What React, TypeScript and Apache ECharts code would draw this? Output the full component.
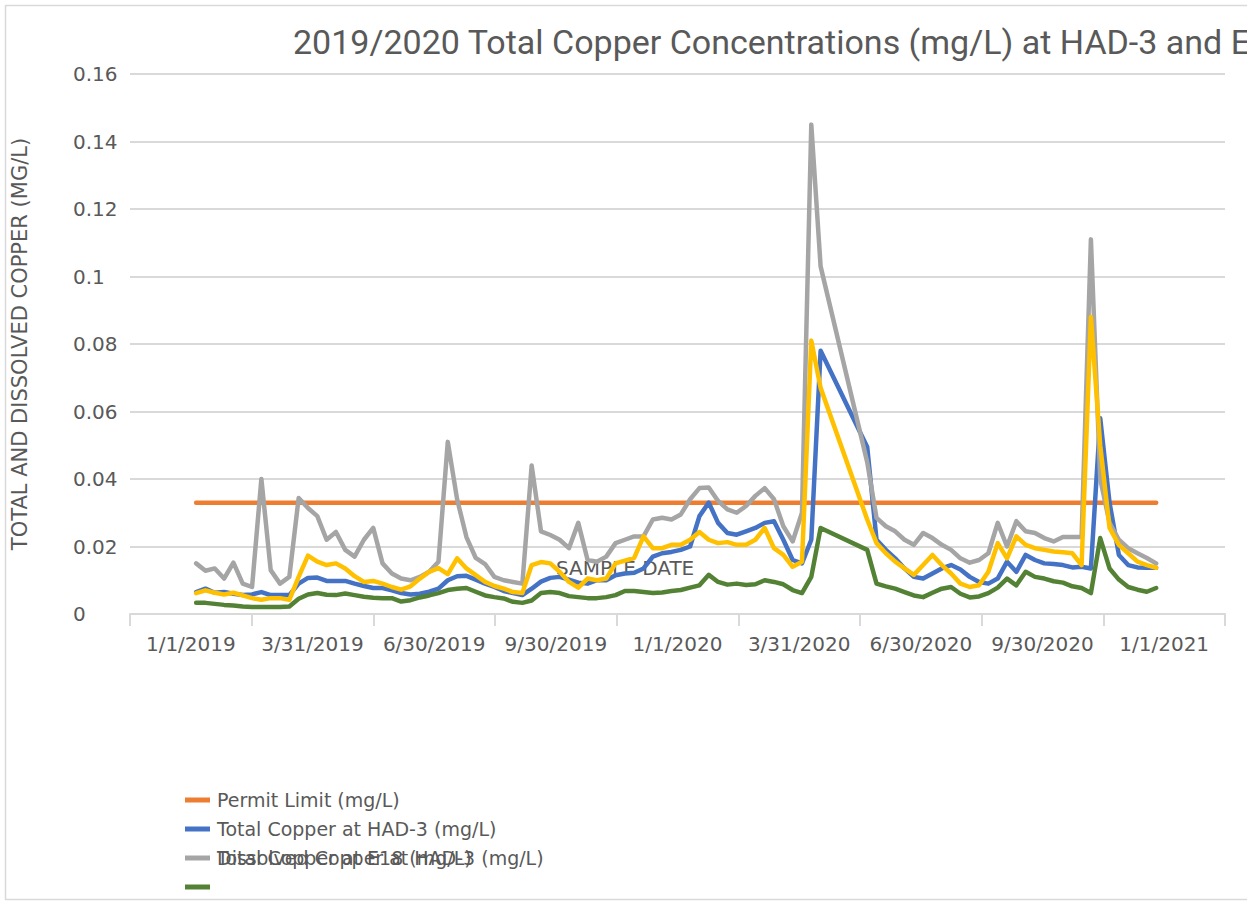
import React, { useEffect, useRef } from "react";
import * as echarts from "echarts";

const TITLE = "2019/2020 Total Copper Concentrations (mg/L) at HAD-3 and E18";
const Y_TITLE = "TOTAL AND DISSOLVED COPPER (MG/L)";
const X_TITLE = "SAMPLE DATE";
const X_LABELS = ["1/1/2019", "3/31/2019", "6/30/2019", "9/30/2019", "1/1/2020", "3/31/2020", "6/30/2020", "9/30/2020", "1/1/2021"];

const SERIES_NAMES = [
  "Permit Limit (mg/L)",
  "Total Copper at HAD-3 (mg/L)",
  "Total Copper at E18 (mg/L)",
  "Dissolved Copper at HAD-3 (mg/L)",
  "Dissolved Copper at E18 (mg/L)",
];

const DATES = [
  "2019-01-05", "2019-01-12", "2019-01-19", "2019-01-26",
  "2019-02-02", "2019-02-09", "2019-02-16", "2019-02-23",
  "2019-03-02", "2019-03-09", "2019-03-16", "2019-03-23", "2019-03-30",
  "2019-04-06", "2019-04-13", "2019-04-20", "2019-04-27",
  "2019-05-04", "2019-05-11", "2019-05-18", "2019-05-25",
  "2019-06-01", "2019-06-08", "2019-06-15", "2019-06-22", "2019-06-29",
  "2019-07-06", "2019-07-13", "2019-07-20", "2019-07-27",
  "2019-08-03", "2019-08-10", "2019-08-17", "2019-08-24", "2019-08-31",
  "2019-09-07", "2019-09-14", "2019-09-21", "2019-09-28",
  "2019-10-05", "2019-10-12", "2019-10-19", "2019-10-26",
  "2019-11-02", "2019-11-09", "2019-11-16", "2019-11-23", "2019-11-30",
  "2019-12-07", "2019-12-14", "2019-12-21", "2019-12-28",
  "2020-01-04", "2020-01-11", "2020-01-18", "2020-01-25",
  "2020-02-01", "2020-02-08", "2020-02-15", "2020-02-22", "2020-02-29",
  "2020-03-07", "2020-03-14", "2020-03-21", "2020-03-28",
  "2020-04-04", "2020-04-11", "2020-04-18",
  "2020-05-23", "2020-05-30",
  "2020-06-06", "2020-06-13", "2020-06-20", "2020-06-27",
  "2020-07-04", "2020-07-11", "2020-07-18", "2020-07-25",
  "2020-08-01", "2020-08-08", "2020-08-15", "2020-08-22", "2020-08-29",
  "2020-09-05", "2020-09-12", "2020-09-19", "2020-09-26",
  "2020-10-03", "2020-10-10", "2020-10-17", "2020-10-24", "2020-10-31",
  "2020-11-07", "2020-11-14", "2020-11-21", "2020-11-28",
  "2020-12-05", "2020-12-12", "2020-12-19", "2020-12-26",
];

const PERMIT_LIMIT = 0.033;

const TOTAL_HAD3 = [
  0.0065, 0.0075, 0.0063, 0.0065, 0.006, 0.0056, 0.0058, 0.0065, 0.0056, 0.0056,
  0.0056, 0.009, 0.0107, 0.0108, 0.0098, 0.0098, 0.0098, 0.009, 0.0083, 0.0077,
  0.0077, 0.007, 0.0062, 0.0058, 0.006, 0.0066, 0.0075, 0.01, 0.0112, 0.0113,
  0.0102, 0.009, 0.008, 0.0068, 0.0062, 0.0056, 0.0075, 0.0096, 0.0107, 0.011,
  0.0102, 0.0093, 0.009, 0.01, 0.01, 0.0115, 0.012, 0.0122, 0.0135, 0.017,
  0.018, 0.0184, 0.019, 0.02, 0.029, 0.033, 0.027, 0.024, 0.0235, 0.0245,
  0.0255, 0.027, 0.0275, 0.022, 0.016, 0.015, 0.022, 0.078,
  0.0495, 0.022, 0.019, 0.0165, 0.0135, 0.011, 0.0105, 0.012, 0.0135, 0.0145,
  0.0132, 0.011, 0.0095, 0.009, 0.0105, 0.0155, 0.0125, 0.0175, 0.016, 0.015,
  0.0148, 0.0145, 0.0138, 0.014, 0.0135, 0.058, 0.033, 0.0175, 0.0145, 0.0138,
  0.0137, 0.0137,
];

const TOTAL_E18 = [
  0.015, 0.0128, 0.0135, 0.0105, 0.0152, 0.009, 0.008, 0.04, 0.013, 0.009,
  0.011, 0.0344, 0.0314, 0.029, 0.022, 0.0243, 0.019, 0.017, 0.022, 0.0255,
  0.015, 0.012, 0.0105, 0.01, 0.011, 0.0125, 0.0155, 0.051, 0.034, 0.0228,
  0.0166, 0.0148, 0.011, 0.01, 0.0095, 0.009, 0.044, 0.0245, 0.0234, 0.022,
  0.0195, 0.027, 0.016, 0.0155, 0.017, 0.021, 0.022, 0.023, 0.023, 0.028,
  0.0285, 0.028, 0.0295, 0.034, 0.0373, 0.0375, 0.0335, 0.031, 0.03, 0.032,
  0.035, 0.0373, 0.034, 0.026, 0.0215, 0.03, 0.145, 0.103,
  0.045, 0.0285, 0.026, 0.0245, 0.022, 0.0205, 0.024, 0.0225, 0.0205, 0.019,
  0.0165, 0.0152, 0.016, 0.018, 0.027, 0.02, 0.0275, 0.0245, 0.024, 0.0225,
  0.0215, 0.0228, 0.0228, 0.0228, 0.111, 0.04, 0.027, 0.022, 0.0195, 0.018,
  0.0166, 0.015,
];

const DISSOLVED_HAD3 = [
  0.0062, 0.007, 0.0063, 0.0058, 0.0063, 0.0055, 0.0047, 0.0042, 0.0047, 0.0047,
  0.0042, 0.011, 0.0173, 0.0155, 0.0145, 0.015, 0.0135, 0.0112, 0.0095, 0.0098,
  0.009, 0.008, 0.0072, 0.0082, 0.0105, 0.0125, 0.0136, 0.0118, 0.0165, 0.0135,
  0.0115, 0.0095, 0.0083, 0.0075, 0.0065, 0.0062, 0.0145, 0.0154, 0.015, 0.0125,
  0.0095, 0.0078, 0.0105, 0.01, 0.0105, 0.015, 0.0158, 0.0166, 0.023, 0.0195,
  0.0195, 0.0205, 0.0205, 0.022, 0.0243, 0.022, 0.021, 0.0213, 0.0205, 0.0205,
  0.022, 0.0255, 0.0195, 0.0175, 0.014, 0.0155, 0.081, 0.067,
  0.028, 0.021, 0.018, 0.0155, 0.0135, 0.0116, 0.0145, 0.0175, 0.0145, 0.012,
  0.009, 0.008, 0.0085, 0.0125, 0.021, 0.0165, 0.023, 0.0205, 0.0195, 0.019,
  0.0185, 0.0183, 0.018, 0.0145, 0.088, 0.05, 0.0255, 0.0205, 0.018, 0.0155,
  0.0145, 0.0137,
];

const DISSOLVED_E18 = [
  0.0033, 0.0033, 0.003, 0.0027, 0.0025, 0.0022, 0.0021, 0.0021, 0.0021, 0.0021,
  0.0022, 0.0045, 0.0058, 0.0062, 0.0057, 0.0056, 0.0061, 0.0056, 0.0051, 0.0048,
  0.0047, 0.0047, 0.0037, 0.0041, 0.0049, 0.0055, 0.0062, 0.0071, 0.0075, 0.0077,
  0.0066, 0.0055, 0.005, 0.0046, 0.0036, 0.0033, 0.004, 0.0062, 0.0065, 0.0062,
  0.0053, 0.005, 0.0047, 0.0047, 0.005, 0.0056, 0.0068, 0.0068, 0.0065, 0.0062,
  0.0064, 0.0068, 0.0071, 0.0078, 0.0085, 0.0116, 0.0095, 0.0087, 0.009, 0.0086,
  0.0088, 0.01, 0.0095, 0.0088, 0.0071, 0.0062, 0.011, 0.0255,
  0.019, 0.009, 0.0082, 0.0075, 0.0065, 0.0055, 0.005, 0.0063, 0.0075, 0.008,
  0.006, 0.0049, 0.0052, 0.0062, 0.0078, 0.0105, 0.0085, 0.0125, 0.011, 0.0105,
  0.0097, 0.0093, 0.0082, 0.0077, 0.0062, 0.0225, 0.0135, 0.0102, 0.008, 0.0072,
  0.0066, 0.0077,
];

const COLORS = ["#ED7D31", "#4472C4", "#A5A5A5", "#FFC000", "#548235"];
const FONT = "'DejaVu Sans', 'Open Sans', sans-serif";
const TITLE_FONT = "'Roboto', 'Open Sans', sans-serif";
const TEXT_COLOR = "#595959";

export default function App() {
  const ref = useRef<HTMLDivElement>(null);

  useEffect(() => {
    if (!ref.current) return;
    const chart = echarts.init(ref.current, undefined, { renderer: "svg" });

    const pair = (vals: number[]) => DATES.map((d, i) => [d, vals[i]]);
    const permit = DATES.map((d) => [d, PERMIT_LIMIT]);
    const valueSets = [permit, pair(TOTAL_HAD3), pair(TOTAL_E18), pair(DISSOLVED_HAD3), pair(DISSOLVED_E18)];

    const series = valueSets.map((data, i) => ({
      name: SERIES_NAMES[i],
      type: "line",
      xAxisIndex: 1,
      data,
      symbol: "none",
      lineStyle: { color: COLORS[i], width: 4.5, cap: "round", join: "round" },
      itemStyle: { color: COLORS[i] },
      z: 2 + i,
    }));

    const legendRows = [
      { color: COLORS[0], texts: [SERIES_NAMES[0]] },
      { color: COLORS[1], texts: [SERIES_NAMES[1]] },
      { color: COLORS[2], texts: [SERIES_NAMES[3], SERIES_NAMES[2]] },
      { color: COLORS[4], texts: [] as string[] },
    ];
    const legendGraphics: any[] = [];
    legendRows.forEach((row, r) => {
      const y = 800 + r * 29;
      legendGraphics.push({
        type: "line",
        shape: { x1: 185, y1: y, x2: 210, y2: y },
        style: { stroke: row.color, lineWidth: 5 },
      });
      row.texts.forEach((t) => {
        legendGraphics.push({
          type: "text",
          x: 217,
          y: y,
          style: { text: t, fill: TEXT_COLOR, font: `19px ${FONT}`, textVerticalAlign: "middle" },
        });
      });
    });

    const option: any = {
      animation: false,
      backgroundColor: "#ffffff",
      title: {
        text: TITLE,
        left: 288,
        top: 20,
        textStyle: { fontFamily: TITLE_FONT, fontSize: 34, fontWeight: "normal", color: TEXT_COLOR },
      },
      grid: { left: 130, right: 22, top: 74, bottom: 287, containLabel: false },
      xAxis: [
        {
          type: "category",
          data: X_LABELS,
          boundaryGap: true,
          axisLine: { lineStyle: { color: "#D9D9D9", width: 2 } },
          axisTick: { show: true, length: 12, lineStyle: { color: "#D9D9D9", width: 2 } },
          axisLabel: { color: TEXT_COLOR, fontSize: 20, fontFamily: FONT, margin: 20, interval: 0 },
          splitLine: { show: false },
        },
        {
          type: "time",
          min: new Date(2018, 10, 16, 8).getTime(),
          max: new Date(2021, 1, 15, 17).getTime(),
          show: false,
        },
      ],
      yAxis: {
        type: "value",
        min: 0,
        max: 0.16,
        interval: 0.02,
        name: Y_TITLE,
        nameLocation: "middle",
        nameGap: 100,
        nameRotate: 90,
        nameTextStyle: { color: TEXT_COLOR, fontSize: 21, fontFamily: FONT },
        axisLine: { show: false },
        axisTick: { show: false },
        axisLabel: {
          color: TEXT_COLOR,
          fontSize: 20,
          fontFamily: FONT,
          align: "left",
          margin: 57,
          formatter: (v: number) => String(Number(v.toFixed(2))),
        },
        splitLine: { lineStyle: { color: "#D9D9D9", width: 2 } },
      },
      graphic: [
        {
          type: "rect",
          left: 3,
          top: 3,
          shape: { width: 1300, height: 894 },
          style: { fill: "none", stroke: "#D9D9D9", lineWidth: 1.5 },
          silent: true,
        },
        {
          type: "text",
          x: 556,
          y: 568,
          style: { text: X_TITLE, fill: TEXT_COLOR, font: `20px ${FONT}`, textVerticalAlign: "middle" },
        },
        ...legendGraphics,
      ],
      series,
    };

    chart.setOption(option);
    return () => chart.dispose();
  }, []);

  return (
    <div
      ref={ref}
      style={{ position: "absolute", left: 0, top: 0, width: 1247, height: 901, background: "#fff" }}
    />
  );
}
